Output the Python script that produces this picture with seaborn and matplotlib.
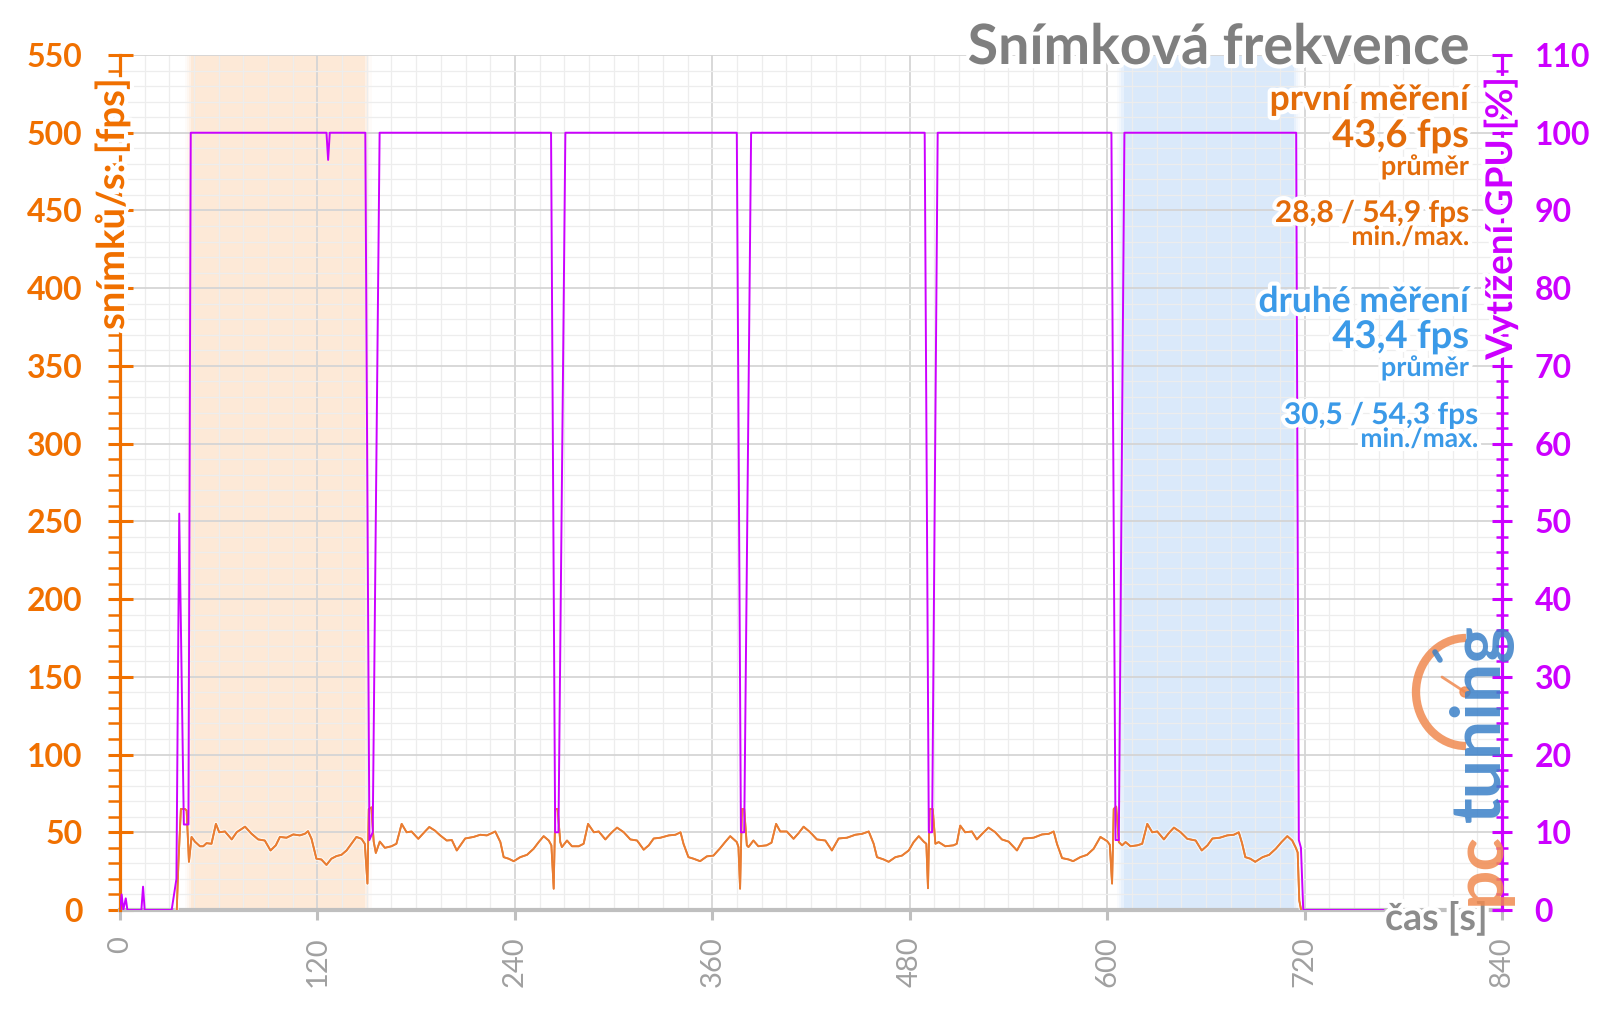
import numpy as np
import pandas as pd
import matplotlib
matplotlib.use("Agg")
import matplotlib.pyplot as plt
import seaborn as sns
from matplotlib import patheffects as pe
from matplotlib.ticker import MultipleLocator
from matplotlib.patches import Arc, Circle

# ---------------- data ----------------
fps_t = [34.5, 35.5, 37.0, 39.5, 40.5, 41.9, 43.5, 45.5, 48.6, 50.6, 52.6, 55.6, 58.3, 60.3, 63.8,
         67.9, 70.9, 76.0, 80.0, 84.0, 88.0, 91.5, 94.7, 97.2, 101.2, 105.3, 109.3, 112.3, 114.3,
         116.4, 119.4, 122.4, 125.5, 128.5, 131.6, 134.6, 137.7, 140.7, 143.7, 146.8, 148.8, 150.4,
         151.2, 152.8, 154.2, 155.5,
         157.9, 161.0, 165.0, 168.0, 171.2, 174.2, 177.2, 181.3, 184.5, 188.0, 191.5, 194.6, 198.6,
         201.7, 204.7, 209.8, 214.9, 219.0, 223.0, 228.1, 231.2, 233.2, 236.2, 239.3, 243.3, 247.4,
         251.4, 254.5, 257.5, 260.6, 262.2, 263.6, 264.6, 266.0, 267.6, 268.6,
         271.7, 274.7, 278.8, 281.8, 284.5, 288.0, 291.0, 295.0, 298.5, 302.1, 306.2, 310.2, 314.3,
         318.3, 321.4, 324.4, 328.5, 333.6, 337.6, 340.7, 342.5, 345.5, 348.6, 352.6, 356.7, 360.7,
         364.8, 367.8, 370.9, 374.9, 375.9, 376.9, 378.0, 379.4, 381.0, 382.0,
         385.0, 388.0, 393.0, 396.0, 398.8, 401.3, 405.3, 409.4, 412.5, 415.5, 419.5, 423.6, 428.7,
         432.7, 436.8, 441.9, 446.9, 451.0, 455.1, 458.1, 460.1, 464.2, 467.2, 471.3, 475.3, 479.4,
         482.4, 485.5, 488.5, 490.1, 491.1, 492.1, 494.0, 495.6, 497.6,
         501.6, 506.6, 508.6, 510.7, 513.7, 517.8, 520.8, 524.5, 527.9, 532.0, 536.0, 540.1, 545.2,
         549.2, 555.3, 560.4, 564.5, 567.5, 569.5, 572.6, 576.6, 579.3, 583.7, 587.8, 591.8, 595.9,
         600.0, 601.6, 603.0, 604.0, 605.5, 607.1, 609.1,
         611.2, 614.2, 618.3, 621.3, 624.4, 627.4, 630.5, 634.5, 637.5, 640.6, 644.7, 648.7, 653.8,
         657.5, 661.0, 664.0, 668.5, 673.0, 677.0, 680.0, 682.0, 684.0, 687.0, 690.0, 694.5, 698.5,
         702.5, 706.0, 709.5, 712.5, 714.7, 715.8, 716.8, 717.9]
fps_v = [0, 30, 65, 65, 64, 31, 47, 44, 41, 41, 43, 42.6, 55.4, 50, 50.5,
         45.4, 50, 53.6, 49, 45.4, 44.7, 38.3, 41.6, 47, 46.5, 48.6, 48, 49, 50.7,
         45.8, 33, 32.5, 29, 33, 34.7, 35.5, 38.3, 42.6, 47, 45.8, 42.6, 17,
         65, 66, 44, 36.7,
         44, 40, 41, 42.6, 55.4, 50, 50.5, 45.8, 49.5, 53.4, 51, 48, 44.7,
         45, 38.3, 46, 47, 48.4, 48, 50.5, 43.7, 34, 33, 31.4, 34, 35.5,
         39.4, 43.7, 47.5, 44.7, 41.6, 13.7, 65, 65, 43.7, 40.5,
         44.7, 41, 41, 42.6, 55.4, 50, 50.5, 45.4, 49.5, 53, 50, 45.4, 44.7,
         38.8, 41.6, 46, 46.5, 48, 48.4, 50, 42.6, 34, 33, 31.4, 34.5, 35,
         39.8, 43.7, 47.5, 43.7, 40.5, 13.7, 65, 65, 41.6, 40.5,
         44.7, 41, 41.6, 43.3, 55.4, 50.5, 50.5, 45.8, 49.5, 53.6, 50, 45.4, 44.7,
         38.3, 46, 46.5, 48.4, 49, 50.5, 42.6, 34, 32.5, 31, 34, 35, 38.3,
         43.7, 47.5, 44, 42.6, 14, 65, 65, 42.6, 43.7,
         41, 41.6, 42.6, 54.3, 50, 50.5, 45.4, 49.5, 53, 50, 45.4, 44, 38.3,
         46, 46.5, 48.6, 49, 50.5, 42.6, 33.4, 32.5, 31.4, 34, 35.5, 39.4, 47,
         44.3, 42, 17, 65, 66.5, 43.7, 41.6,
         43.7, 41, 41.6, 42.6, 55.4, 50, 50.5, 45.4, 49.5, 53, 50, 45.8, 44.7,
         38.3, 41.6, 46, 46.5, 48, 48.4, 50, 43, 34, 33, 31, 34, 35.5,
         39.4, 43.7, 47.5, 44.7, 40, 37, 6, 0]

gpu_t = [0, 1, 2, 3.5, 4.5, 13, 14, 15, 31.4, 34.3, 36, 38.8, 41.6, 43, 125.5, 126.5, 127.5,
         149.1, 151.6, 153.6, 157.8, 262.0, 264.5, 266.5, 270.7, 374.9, 377.4, 379.4, 383.6,
         489.1, 491.6, 493.6, 497.0, 602.6, 605.1, 607.1, 610.5, 714.9, 716.5, 717.8, 719.2, 768]
gpu_v = [0, 2, 0, 1.5, 0, 0, 3, 0, 0, 4, 51, 11, 11, 100, 100, 96.5, 100,
         100, 9, 10, 100, 100, 10, 10, 100, 100, 10, 10, 100,
         100, 10, 10, 100, 100, 9, 9, 100, 100, 9, 8, 0, 0]

first_span = (43.4, 149.0)
second_span = (610.0, 713.5)

x_ticks = [0, 120, 240, 360, 480, 600, 720, 840]
fps_ticks = [0, 50, 100, 150, 200, 250, 300, 350, 400, 450, 500, 550]
gpu_ticks = [0, 10, 20, 30, 40, 50, 60, 70, 80, 90, 100, 110]

title = "Snímková frekvence"
fps_label = "snímků/s: [fps]"
gpu_label = "Vytížení GPU [%]"
x_label = "čas [s]"
run1_lines = ["první měření", "43,6 fps", "průměr", "28,8 / 54,9 fps", "min./max."]
run2_lines = ["druhé měření", "43,4 fps", "průměr", "30,5 / 54,3 fps", "min./max."]

# ---------------- style ----------------
sns.set_theme(style="white")
plt.rcParams['font.family'] = ['Lato', 'DejaVu Sans']

ORANGE_TXT = '#F07000'
ORANGE_ANN = '#E36C0A'
ORANGE_LINE = '#E97D32'
MAGENTA = '#CC00FF'
BLUE_ANN = '#3B9AE8'
GRAY_TITLE = '#7F7F7F'
GRAY_TICK = '#A0A0A0'
GRAY_AXIS = '#BFBFBF'
GLOW = [pe.withStroke(linewidth=6, foreground='white')]

W, H = 1600, 1009
L, R, B, T = 120, 1502, 910, 55
fig = plt.figure(figsize=(W / 100, H / 100), dpi=100)
ax = fig.add_axes([L / W, (H - B) / H, (R - L) / W, (B - T) / H])
ax2 = ax.twinx()

# shaded measurement windows with soft edges
def soft_span(a, x0, x1, color):
    a.axvspan(x0, x1, color=color, lw=0, zorder=0.2)
    for k, al in enumerate([0.6, 0.35, 0.15]):
        d0 = 1.3 * k
        a.axvspan(x0 - d0 - 1.3, x0 - d0, color=color, alpha=al, lw=0, zorder=0.2)
        a.axvspan(x1 + d0, x1 + d0 + 1.3, color=color, alpha=al, lw=0, zorder=0.2)

soft_span(ax, *first_span, '#FDE9D7')
soft_span(ax, *second_span, '#DAE9FA')

fps_df = pd.DataFrame({'t': fps_t, 'fps': fps_v})
gpu_df = pd.DataFrame({'t': gpu_t, 'gpu': gpu_v})
sns.lineplot(data=fps_df, x='t', y='fps', ax=ax, color=ORANGE_LINE, lw=1.3,
             estimator=None, sort=False, zorder=3,
             path_effects=[pe.withStroke(linewidth=3.2, foreground='white', alpha=0.6), pe.Normal()])
sns.lineplot(data=gpu_df, x='t', y='gpu', ax=ax2, color=MAGENTA, lw=1.4,
             estimator=None, sort=False, zorder=3)

ax.set_xlim(0, 840)
ax.set_ylim(0, 550)
ax2.set_ylim(0, 110)
ax.set_xlabel('')
ax.set_ylabel('')
ax2.set_ylabel('')

# grid
ax.set_axisbelow(True)
ax.xaxis.set_minor_locator(MultipleLocator(15))
ax.yaxis.set_minor_locator(MultipleLocator(10))
ax.grid(which='minor', color='#EDEDED', lw=0.9)
ax.grid(which='major', color='#D5D5D5', lw=1.3)

# spines
for s in ['top', 'right']:
    ax.spines[s].set_visible(False)
for s in ['top', 'left', 'bottom']:
    ax2.spines[s].set_visible(False)
ax.spines['left'].set_color(ORANGE_TXT)
ax.spines['left'].set_linewidth(2.3)
ax.spines['bottom'].set_color(GRAY_AXIS)
ax.spines['bottom'].set_linewidth(3)
ax2.spines['right'].set_color(MAGENTA)
ax2.spines['right'].set_linewidth(2.3)
ax.spines['left'].set_zorder(4)

# ticks
ax.set_xticks(x_ticks)
ax.set_xticklabels([str(v) for v in x_ticks], rotation=90, fontsize=21, color=GRAY_TICK)
ax.tick_params(axis='x', which='major', direction='out', length=7, width=2.2,
               color=GRAY_AXIS, pad=12, bottom=True)
ax.tick_params(axis='x', which='minor', length=0)

ax.set_yticks(fps_ticks)
ax.set_yticklabels([str(v) for v in fps_ticks], fontsize=23, fontweight='bold', color=ORANGE_TXT)
ax.tick_params(axis='y', which='major', direction='inout', length=18, width=2.2,
               color=ORANGE_TXT, pad=18, left=True)
ax.tick_params(axis='y', which='minor', direction='out', length=8.5, width=1.8,
               color=ORANGE_TXT, left=True)

ax2.set_yticks(gpu_ticks)
ax2.yaxis.set_minor_locator(MultipleLocator(2))
ax2.set_yticklabels([str(v) for v in gpu_ticks], fontsize=23, fontweight='bold', color=MAGENTA)
ax2.tick_params(axis='y', which='major', direction='inout', length=15, width=2.2,
                color=MAGENTA, pad=16, right=True)
ax2.tick_params(axis='y', which='minor', direction='inout', length=8, width=1.8,
                color=MAGENTA, right=True)
ax2.grid(False)

# ---------------- overlay for texts and logo (pixel coordinates) ----------------
ov = fig.add_axes([0, 0, 1, 1])
ov.set_xlim(0, W)
ov.set_ylim(H, 0)
ov.axis('off')
ov.patch.set_alpha(0)

ov.text(1469, 64, title, ha='right', va='baseline', fontsize=40, fontweight='bold',
        color=GRAY_TITLE, path_effects=GLOW)

ov.text(112, 78, fps_label, rotation=90, ha='center', va='top', fontsize=27.5,
        fontweight='bold', color=ORANGE_TXT, path_effects=GLOW)
ov.text(1501, 78, gpu_label, rotation=90, ha='center', va='top', fontsize=26.5,
        fontweight='bold', color=MAGENTA, path_effects=GLOW)
ov.text(1488, 918, x_label, ha='right', va='center', fontsize=27,
        fontweight='bold', color='#8C8C8C', path_effects=GLOW)

sizes = [25.5, 27.5, 19.5, 21.5, 19]
run1_y = [110, 147, 175, 222, 245]
run2_y = [312, 348, 376, 424, 447]
run1_x = [1469, 1469, 1469, 1469, 1469]
run2_x = [1469, 1469, 1469, 1478, 1478]
for txt, yy, xx, fs in zip(run1_lines, run1_y, run1_x, sizes):
    ov.text(xx, yy, txt, ha='right', va='baseline', fontsize=fs, fontweight='bold',
            color=ORANGE_ANN, path_effects=GLOW)
for txt, yy, xx, fs in zip(run2_lines, run2_y, run2_x, sizes):
    ov.text(xx, yy, txt, ha='right', va='baseline', fontsize=fs, fontweight='bold',
            color=BLUE_ANN, path_effects=GLOW)

# pctuning watermark
ov.add_patch(Arc((1466, 692), 100, 108, theta1=90, theta2=270, lw=6,
                 color='#F08A50', alpha=0.85))
ov.plot([1442, 1465], [677, 692], color='#F08A50', lw=2, alpha=0.85)
ov.add_patch(Circle((1465, 692), 5, color='#F08A50', alpha=0.85))
ov.plot([1435, 1440], [652, 660], color='#3A80C8', lw=4, alpha=0.85)
ov.text(1500, 905, "pc", rotation=90, rotation_mode='anchor', ha='left', va='baseline',
        fontsize=50, fontweight='bold', color='#F08A50', alpha=0.85)
ov.text(1500, 822, "tuning", rotation=90, rotation_mode='anchor', ha='left', va='baseline',
        fontsize=50, fontweight='bold', color='#3A80C8', alpha=0.85)

fig.savefig('out.png', dpi=100)
